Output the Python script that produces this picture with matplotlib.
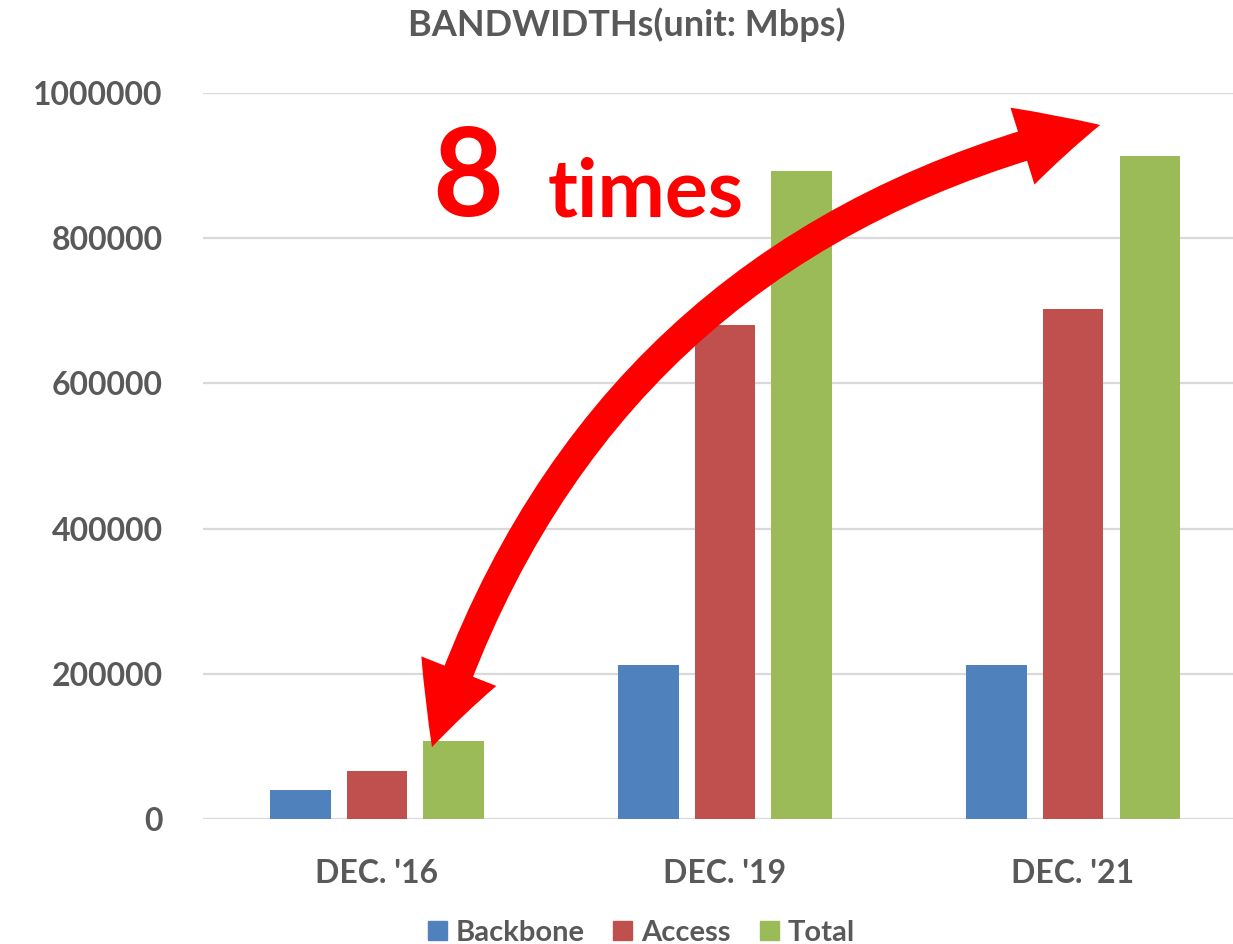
import matplotlib.pyplot as plt
import numpy as np
from matplotlib.patches import FancyArrowPatch, Patch
from matplotlib.path import Path

plt.rcParams['font.family'] = ['Lato', 'DejaVu Sans']

# Bandwidth figures (Mbps)
periods = ["DEC. '16", "DEC. '19", "DEC. '21"]
series_names = ['Backbone', 'Access', 'Total']
backbone = [40000, 212000, 212000]
access = [66000, 680000, 702000]
total = [107000, 892000, 913000]
yticks = [0, 200000, 400000, 600000, 800000, 1000000]

colors = ['#4F81BD', '#C0504D', '#9BBB59']
gray = '#595959'
red = '#FF0000'

fig = plt.figure(figsize=(12.33, 9.44), dpi=100)
ax = fig.add_axes([0.1646, 0.1324, 0.8468, 0.7691])

x = np.arange(len(periods))
width = 0.175
step = 0.221
for i, vals in enumerate([backbone, access, total]):
    ax.bar(x + (i - 1) * step, vals, width, color=colors[i], zorder=2)

ax.set_xlim(-0.5, 2.5)
ax.set_ylim(0, 1000000)
ax.set_yticks(yticks)
ax.set_yticklabels([str(v) for v in yticks])
ax.set_xticks(x)
ax.set_xticklabels(periods)
ax.tick_params(axis='y', length=0, pad=29, labelsize=23, labelcolor=gray)
ax.tick_params(axis='x', length=0, pad=29, labelsize=23, labelcolor=gray)
for lbl in ax.get_xticklabels() + ax.get_yticklabels():
    lbl.set_fontweight('bold')
for s in ax.spines.values():
    s.set_visible(False)
ax.grid(axis='y', color='#D9D9D9', lw=1.6, zorder=0)
ax.set_axisbelow(True)

fig.text(0.508, 0.9735, 'BANDWIDTHs(unit: Mbps)', ha='center', va='center',
         fontsize=26, fontweight='bold', color=gray)

# curved double-headed arrow: one stroked shaft plus a head on each end
p0 = np.array([0.158, 99000.0])
c = np.array([0.613, 790000.0])
p2 = np.array([2.078, 956000.0])


def bez(t):
    return (1 - t) ** 2 * p0 + 2 * t * (1 - t) * c + t ** 2 * p2


def sub_ctrl(a, b):
    # control point of the piece of the curve between t=a and t=b
    return (1 - a) * ((1 - b) * p0 + b * c) + a * ((1 - b) * c + b * p2)


ta, tb = 0.04, 0.96
shaft = Path([bez(ta), sub_ctrl(ta, tb), bez(tb)],
             [Path.MOVETO, Path.CURVE3, Path.CURVE3])
ax.add_patch(FancyArrowPatch(path=shaft, transform=ax.transData, arrowstyle='-',
                             mutation_scale=1, color=red, lw=22, capstyle='butt',
                             zorder=5, clip_on=False))
mid = bez(0.5)
for end in (p0, p2):
    half = Path([mid, (end + c) / 2, end], [Path.MOVETO, Path.CURVE3, Path.CURVE3])
    ax.add_patch(FancyArrowPatch(path=half, transform=ax.transData,
                                 arrowstyle='simple,head_length=58,head_width=58,tail_width=20',
                                 mutation_scale=1, color=red, lw=0, zorder=5,
                                 clip_on=False))

ax.text(0.158, 830000, '8', color=red, fontsize=88, fontweight='bold',
        ha='left', va='baseline', zorder=6)
ax.text(0.49, 830000, 'times', color=red, fontsize=58, fontweight='bold',
        ha='left', va='baseline', zorder=6)

handles = [Patch(color=colors[i], label=series_names[i]) for i in range(3)]
fig.legend(handles=handles, loc='center', bbox_to_anchor=(0.52, 0.012), ncol=3,
           frameon=False, handlelength=0.65, handleheight=0.65, handletextpad=0.3,
           columnspacing=1.0, prop={'size': 21, 'weight': 'bold'}, labelcolor=gray)

fig.savefig('out.png', dpi=100)
